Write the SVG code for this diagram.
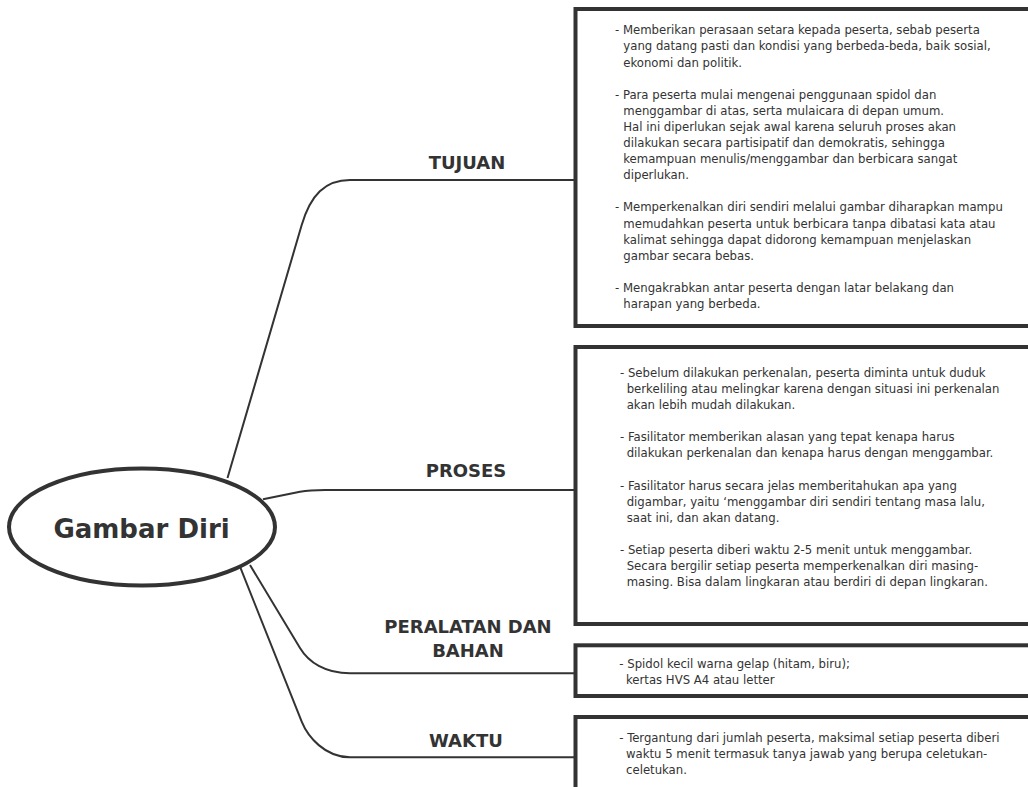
<svg xmlns="http://www.w3.org/2000/svg" width="1028" height="787" viewBox="0 0 1028 787">
  <style>
    .bg { fill: #ffffff; }
    .link { fill: none; stroke: #333333; stroke-width: 2; }
    .hub { fill: #ffffff; stroke: #333333; stroke-width: 4; }
    .box { fill: #ffffff; stroke: #333333; stroke-width: 4; }
    .hub-text { font-family: "DejaVu Sans", Verdana, sans-serif; font-weight: bold; font-size: 26px; fill: #333333; text-anchor: middle; }
    .label { font-family: "DejaVu Sans", Verdana, sans-serif; font-weight: bold; font-size: 18px; fill: #333333; text-anchor: middle; }
    .body { font-family: "DejaVu Sans Condensed", "DejaVu Sans", sans-serif; font-stretch: condensed; font-size: 13px; fill: #333333; }
  </style>

  <rect class="bg" x="0" y="0" width="1028" height="787"/>

  <!-- branches from the central topic to each detail box -->
  <g id="connectors">
    <path class="link" d="M 227.5 478 L 301.7 225 C 310.6 195, 325 180, 350 180 L 574 180"/>
    <path class="link" d="M 263 499.3 L 300 491.8 C 308 490.3, 315 490, 325 490 L 574 490"/>
    <path class="link" d="M 250 565 L 300 648 C 308.4 662, 325 673.3, 350 673.3 L 574 673.3"/>
    <path class="link" d="M 240 566.7 L 301.7 721.7 C 307.7 736.7, 325 757.3, 350 757.3 L 574 757.3"/>
  </g>

  <!-- central topic -->
  <g id="node-gambar-diri">
    <ellipse class="hub" cx="142" cy="527" rx="133" ry="58.5"/>
    <text class="hub-text" x="141.5" y="538">Gambar Diri</text>
  </g>

  <!-- branch labels -->
  <g id="label-tujuan"><text class="label" x="467" y="169.3">TUJUAN</text></g>
  <g id="label-proses"><text class="label" x="466" y="477.3">PROSES</text></g>
  <g id="label-peralatan">
    <text class="label" x="468" y="632.7">PERALATAN DAN</text>
    <text class="label" x="468" y="657.3">BAHAN</text>
  </g>
  <g id="label-waktu"><text class="label" x="466" y="746.7">WAKTU</text></g>

  <!-- detail box: TUJUAN -->
  <g id="node-tujuan">
    <rect class="box" x="575.5" y="9" width="480" height="317"/>
    <text class="body">
      <tspan x="615" y="34.3">- Memberikan perasaan setara kepada peserta, sebab peserta</tspan>
      <tspan x="623.3" y="50.4">yang datang pasti dan kondisi yang berbeda-beda, baik sosial,</tspan>
      <tspan x="623.3" y="66.5">ekonomi dan politik.</tspan>
      <tspan x="615" y="98.7">- Para peserta mulai mengenai penggunaan spidol dan</tspan>
      <tspan x="623.3" y="114.8">menggambar di atas, serta mulaicara di depan umum.</tspan>
      <tspan x="623.3" y="130.9">Hal ini diperlukan sejak awal karena seluruh proses akan</tspan>
      <tspan x="623.3" y="147">dilakukan secara partisipatif dan demokratis, sehingga</tspan>
      <tspan x="623.3" y="163.1">kemampuan menulis/menggambar dan berbicara sangat</tspan>
      <tspan x="623.3" y="179.2">diperlukan.</tspan>
      <tspan x="615" y="211.4">- Memperkenalkan diri sendiri melalui gambar diharapkan mampu</tspan>
      <tspan x="623.3" y="227.5">memudahkan peserta untuk berbicara tanpa dibatasi kata atau</tspan>
      <tspan x="623.3" y="243.6">kalimat sehingga dapat didorong kemampuan menjelaskan</tspan>
      <tspan x="623.3" y="259.7">gambar secara bebas.</tspan>
      <tspan x="615" y="291.9">- Mengakrabkan antar peserta dengan latar belakang dan</tspan>
      <tspan x="623.3" y="308">harapan yang berbeda.</tspan>
    </text>
  </g>

  <!-- detail box: PROSES -->
  <g id="node-proses">
    <rect class="box" x="575.5" y="347" width="480" height="277"/>
    <text class="body">
      <tspan x="620" y="376.7">- Sebelum dilakukan perkenalan, peserta diminta untuk duduk</tspan>
      <tspan x="626.7" y="392.8">berkeliling atau melingkar karena dengan situasi ini perkenalan</tspan>
      <tspan x="626.7" y="408.9">akan lebih mudah dilakukan.</tspan>
      <tspan x="620" y="441.3">- Fasilitator memberikan alasan yang tepat kenapa harus</tspan>
      <tspan x="626.7" y="457.4">dilakukan perkenalan dan kenapa harus dengan menggambar.</tspan>
      <tspan x="620" y="489.6">- Fasilitator harus secara jelas memberitahukan apa yang</tspan>
      <tspan x="626.7" y="505.7">digambar, yaitu ‘menggambar diri sendiri tentang masa lalu,</tspan>
      <tspan x="626.7" y="521.8">saat ini, dan akan datang.</tspan>
      <tspan x="620" y="554">- Setiap peserta diberi waktu 2-5 menit untuk menggambar.</tspan>
      <tspan x="626.7" y="570.1">Secara bergilir setiap peserta memperkenalkan diri masing-</tspan>
      <tspan x="626.7" y="586.2">masing. Bisa dalam lingkaran atau berdiri di depan lingkaran.</tspan>
    </text>
  </g>

  <!-- detail box: PERALATAN DAN BAHAN -->
  <g id="node-peralatan">
    <rect class="box" x="575.5" y="645.3" width="480" height="50.7"/>
    <text class="body">
      <tspan x="619.3" y="667.7">- Spidol kecil warna gelap (hitam, biru);</tspan>
      <tspan x="626" y="683.5">kertas HVS A4 atau letter</tspan>
    </text>
  </g>

  <!-- detail box: WAKTU -->
  <g id="node-waktu">
    <rect class="box" x="575.5" y="717" width="480" height="100"/>
    <text class="body">
      <tspan x="619.3" y="742.3">- Tergantung dari jumlah peserta, maksimal setiap peserta diberi</tspan>
      <tspan x="626" y="758.3">waktu 5 menit termasuk tanya jawab yang berupa celetukan-</tspan>
      <tspan x="626" y="774.3">celetukan.</tspan>
    </text>
  </g>
</svg>
